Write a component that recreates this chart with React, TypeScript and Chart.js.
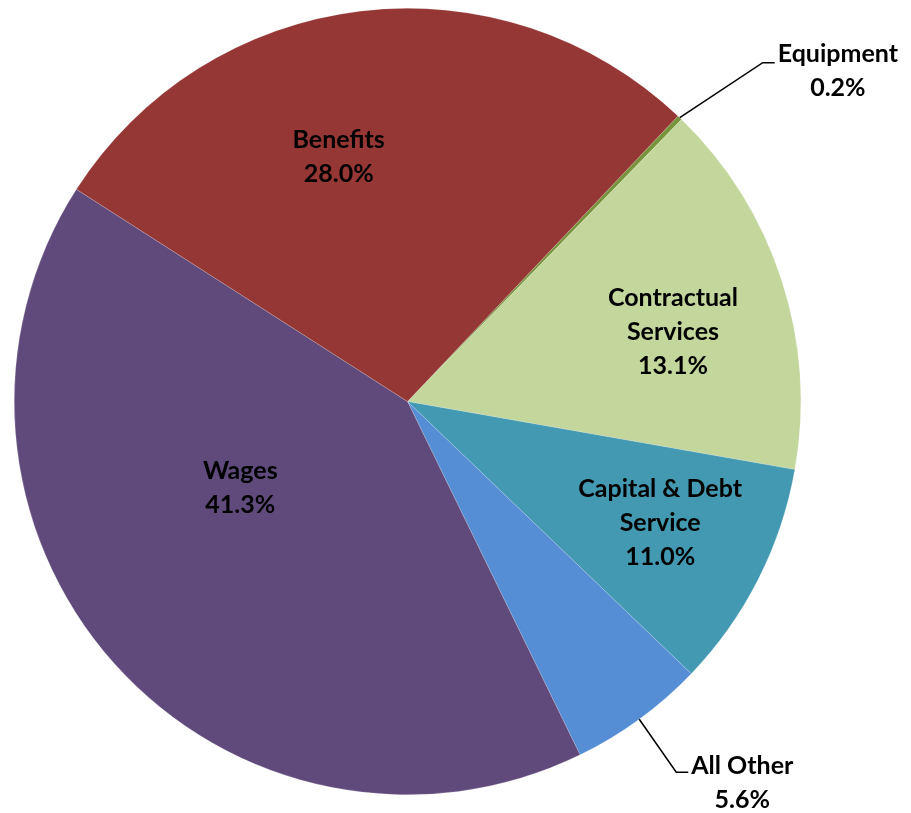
import React, { useEffect, useRef } from "react";
import { Chart, registerables } from "chart.js";

Chart.register(...registerables);

const categories = ["Equipment", "Contractual Services", "Capital & Debt Service", "All Other", "Wages", "Benefits"];
// slice sizes as drawn (percent of circle)
const sliceValues = [0.2, 15.5, 9.4, 5.6, 41.3, 28.0];
// percentages printed in the labels
const labelPercents = ["0.2%", "13.1%", "11.0%", "5.6%", "41.3%", "28.0%"];
const labelLines = [["Equipment"], ["Contractual", "Services"], ["Capital & Debt", "Service"], ["All Other"], ["Wages"], ["Benefits"]];
const colors = ["#77933C", "#C3D69B", "#4399B1", "#558ED5", "#604A7B", "#953735"];

// label layout: inside (angle offset deg, radius fraction) or outside leader (dx, dy of elbow, tail)
const insideLayout: Record<number, { off: number; f: number }> = {
  1: { off: 3.2, f: 0.698 },
  2: { off: -1.2, f: 0.713 },
  4: { off: 14.3, f: 0.479 },
  5: { off: -8.8, f: 0.645 },
};
const outsideLayout: Record<number, { ex: number; ey: number; tail: number; ty: number }> = {
  0: { ex: 83, ey: -55, tail: 12, ty: -9 },
  3: { ex: 37, ey: 53, tail: 12, ty: -6 },
};

const FONT = "bold 25px Lato, 'Liberation Sans', sans-serif";
const LINE_H = 34;

const labelPlugin = {
  id: "pieLabels",
  afterDraw(chart: any) {
    const ctx = chart.ctx;
    const meta = chart.getDatasetMeta(0);
    ctx.save();
    ctx.font = FONT;
    ctx.fillStyle = "#000";
    ctx.textAlign = "center";
    ctx.textBaseline = "middle";
    meta.data.forEach((arc: any, i: number) => {
      const { x, y, startAngle, endAngle, outerRadius } = arc.getProps(["x", "y", "startAngle", "endAngle", "outerRadius"], true);
      const mid = (startAngle + endAngle) / 2;
      const lines = [...labelLines[i], labelPercents[i]];
      if (insideLayout[i]) {
        const L = insideLayout[i];
        const a = mid + (L.off * Math.PI) / 180;
        const cx = x + Math.cos(a) * outerRadius * L.f;
        const cy = y + Math.sin(a) * outerRadius * L.f;
        const top = cy - ((lines.length - 1) * LINE_H) / 2;
        lines.forEach((t, k) => ctx.fillText(t, cx, top + k * LINE_H));
      } else if (outsideLayout[i]) {
        const O = outsideLayout[i];
        const px = x + Math.cos(mid) * outerRadius;
        const py = y + Math.sin(mid) * outerRadius;
        const ex = px + O.ex;
        const ey = py + O.ey;
        const tx = ex + O.tail;
        ctx.strokeStyle = "#000";
        ctx.lineWidth = 1.5;
        ctx.beginPath();
        ctx.moveTo(px, py);
        ctx.lineTo(ex, ey);
        ctx.lineTo(tx, ey);
        ctx.stroke();
        const w = Math.max(...lines.map((t) => ctx.measureText(t).width));
        const cx = tx + 3 + w / 2;
        lines.forEach((t, k) => ctx.fillText(t, cx, ey + O.ty + k * LINE_H));
      }
    });
    ctx.restore();
  },
};

export default function App() {
  const ref = useRef<HTMLCanvasElement | null>(null);
  useEffect(() => {
    if (!ref.current) return;
    const chart = new Chart(ref.current, {
      type: "pie",
      data: {
        labels: categories,
        datasets: [
          {
            data: sliceValues,
            backgroundColor: colors,
            borderColor: "rgba(255,255,255,0.35)",
            borderWidth: 0.5,
          },
        ],
      },
      options: {
        animation: false,
        responsive: false,
        devicePixelRatio: 1,
        rotation: 43.45,
        layout: { padding: { left: 14, top: 8, right: 110, bottom: 18 } },
        plugins: { legend: { display: false }, tooltip: { enabled: false } },
      },
      plugins: [labelPlugin],
    });
    return () => chart.destroy();
  }, []);
  return (
    <div style={{ position: "fixed", left: 0, top: 0, width: 911, height: 813, background: "#fff" }}>
      <canvas ref={ref} width={911} height={813} />
    </div>
  );
}
